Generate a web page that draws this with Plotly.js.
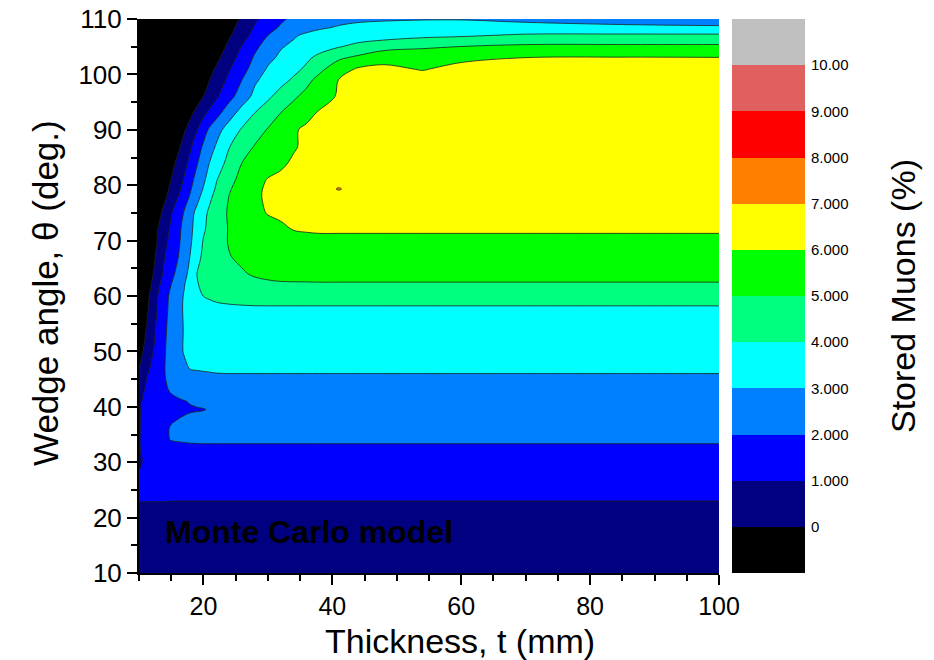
<!DOCTYPE html>
<html>
<head>
<meta charset="utf-8">
<script src="https://cdn.plot.ly/plotly-3.0.1.min.js"></script>
<style>html,body{margin:0;padding:0;background:#fff;}#chart{width:934px;height:660px;}</style>
</head>
<body>
<div id="chart"></div>
<script>
// Thickness t (mm) grid columns
const THICKNESS = [10, 11, 12, 13, 14, 15, 16, 17, 18, 19, 20, 21, 22, 24, 26, 28, 30, 32, 34, 36, 38, 41, 44, 48, 54, 60, 70, 85, 100];
// Wedge angle theta (deg.) grid rows
const ANGLE = [10, 20, 22, 24, 27, 30, 32, 34, 36, 38, 39.5, 41, 43, 45, 47, 50, 54, 58, 60, 62, 64, 67, 70, 72, 75, 78, 79.3, 81, 84, 87, 90, 93, 96, 99, 101, 103, 105, 107, 108.5, 110];
// Stored muons (%), one row per wedge angle
const STORED = [
/*10*/  [0.3,0.3,0.3,0.3,0.3,0.3,0.3,0.3,0.3,0.3, 0.3,0.3,0.3,0.3,0.3,0.3,0.3,0.3,0.3,0.3, 0.3,0.3,0.3,0.3,0.3,0.3,0.3,0.3,0.3],
/*20*/  [0.8,0.8,0.8,0.8,0.8,0.8,0.8,0.8,0.8,0.8, 0.8,0.8,0.8,0.8,0.8,0.8,0.8,0.8,0.8,0.8, 0.8,0.8,0.8,0.8,0.8,0.8,0.8,0.8,0.8],
/*22*/  [0.9,0.9,0.9,0.9,0.9,0.9,0.9,0.9,0.9,0.9, 0.9,0.9,0.9,0.9,0.9,0.9,0.9,0.9,0.9,0.9, 0.9,0.9,0.9,0.9,0.9,0.9,0.9,0.9,0.9],
/*24*/  [1.13,1.13,1.13,1.13,1.13,1.1,1.1,1.1,1.1,1.1, 1.1,1.1,1.1,1.1,1.1,1.1,1.1,1.1,1.1,1.1, 1.1,1.1,1.1,1.1,1.1,1.1,1.1,1.1,1.1],
/*27*/  [1.1,1.2,1.25,1.28,1.3,1.32,1.33,1.35,1.35,1.35, 1.35,1.35,1.35,1.35,1.35,1.35,1.35,1.35,1.35,1.35, 1.35,1.35,1.35,1.35,1.35,1.35,1.35,1.35,1.35],
/*30*/  [0.9,1.1,1.25,1.35,1.42,1.48,1.52,1.55,1.57,1.58, 1.6,1.6,1.6,1.6,1.6,1.6,1.6,1.6,1.6,1.6, 1.6,1.6,1.6,1.6,1.6,1.6,1.6,1.6,1.6],
/*32*/  [0.95,1.15,1.3,1.45,1.55,1.62,1.68,1.72,1.75,1.77, 1.8,1.8,1.8,1.8,1.8,1.8,1.8,1.8,1.8,1.8, 1.8,1.8,1.8,1.8,1.8,1.8,1.8,1.8,1.8],
/*34*/  [0.96,1.2,1.45,1.7,1.92,2.02,2.06,2.08,2.1,2.1, 2.1,2.1,2.1,2.1,2.1,2.1,2.1,2.1,2.1,2.1, 2.1,2.1,2.1,2.1,2.1,2.1,2.1,2.1,2.1],
/*36*/  [0.95,1.2,1.45,1.7,1.9,2.05,2.12,2.16,2.18,2.2, 2.21,2.22,2.23,2.25,2.25,2.25,2.25,2.25,2.25,2.25, 2.25,2.25,2.25,2.25,2.25,2.25,2.25,2.25,2.25],
/*38*/  [0.95,1.18,1.4,1.6,1.8,1.93,1.98,2.04,2.12,2.16, 2.2,2.24,2.27,2.31,2.35,2.35,2.35,2.35,2.35,2.35, 2.35,2.35,2.35,2.35,2.35,2.35,2.35,2.35,2.35],
/*39.5*/[0.95,1.15,1.35,1.55,1.7,1.8,1.86,1.9,1.93,1.95, 1.97,2.05,2.15,2.3,2.42,2.42,2.42,2.42,2.42,2.42, 2.42,2.42,2.42,2.42,2.42,2.42,2.42,2.42,2.42],
/*41*/  [0.92,1.1,1.3,1.5,1.65,1.78,1.88,1.97,2.05,2.12, 2.2,2.28,2.35,2.42,2.5,2.5,2.5,2.5,2.5,2.5, 2.5,2.5,2.5,2.5,2.5,2.5,2.5,2.5,2.5],
/*43*/  [0.85,1.03,1.31,1.58,1.86,2.1,2.25,2.35,2.42,2.48, 2.52,2.56,2.6,2.65,2.65,2.65,2.65,2.65,2.65,2.65, 2.65,2.65,2.65,2.65,2.65,2.65,2.65,2.65,2.65],
/*45*/  [0.7,0.95,1.28,1.62,1.97,2.2,2.4,2.55,2.65,2.72, 2.77,2.8,2.82,2.85,2.85,2.85,2.85,2.85,2.85,2.85, 2.85,2.85,2.85,2.85,2.85,2.85,2.85,2.85,2.85],
/*47*/  [-0.07,0.6,1.17,1.58,1.99,2.29,2.57,2.86,3.05,3.08, 3.1,3.12,3.15,3.15,3.15,3.15,3.15,3.15,3.15,3.15, 3.15,3.15,3.15,3.15,3.15,3.15,3.15,3.15,3.15],
/*50*/  [-0.38,0.25,0.88,1.42,1.95,2.36,2.76,3.05,3.15,3.22, 3.27,3.3,3.33,3.36,3.38,3.4,3.4,3.4,3.4,3.4, 3.4,3.4,3.4,3.4,3.4,3.4,3.4,3.4,3.4],
/*54*/  [-0.79,-0.07,0.64,1.29,1.88,2.31,2.69,3.05,3.2,3.32, 3.42,3.5,3.55,3.6,3.65,3.65,3.65,3.65,3.65,3.65, 3.65,3.65,3.65,3.65,3.65,3.65,3.65,3.65,3.65],
/*58*/  [-1,-0.33,0.41,1.13,1.75,2.26,2.7,3.09,3.35,3.55, 3.7,3.8,3.86,3.9,3.93,3.95,3.95,3.95,3.95,3.95, 3.95,3.95,3.95,3.95,3.95,3.95,3.95,3.95,3.95],
/*60*/  [-1,-0.46,0.31,1.06,1.69,2.22,2.65,3.06,3.38,3.69, 4.01,4.1,4.18,4.28,4.33,4.37,4.4,4.4,4.4,4.4, 4.4,4.4,4.4,4.4,4.4,4.4,4.4,4.4,4.4],
/*62*/  [-1,-0.69,0.08,0.85,1.44,2.01,2.48,2.95,3.45,3.95, 4.15,4.3,4.4,4.55,4.65,4.75,4.85,4.9,4.9,4.9, 4.9,4.9,4.9,4.9,4.9,4.9,4.9,4.9,4.9],
/*64*/  [-1,-0.86,-0.14,0.57,1.21,1.74,2.24,2.71,3.31,4.01, 4.14,4.27,4.4,4.66,4.92,5.1,5.18,5.22,5.25,5.27, 5.3,5.3,5.3,5.3,5.3,5.3,5.3,5.3,5.3],
/*67*/  [-1,-1,-0.33,0.33,1.01,1.48,1.95,2.5,3.07,3.79, 4.14,4.35,4.55,4.96,5.15,5.3,5.4,5.48,5.53,5.56, 5.6,5.6,5.6,5.6,5.6,5.6,5.6,5.6,5.6],
/*70*/  [-1,-1,-0.5,0.13,0.75,1.3,1.8,2.33,2.89,3.5, 4.05,4.32,4.59,5.07,5.25,5.42,5.58,5.7,5.8,5.85, 5.85,5.85,5.85,5.85,5.85,5.85,5.85,5.85,5.85],
/*72*/  [-1,-1,-0.5,0.06,0.61,1.17,1.72,2.28,2.83,3.37, 3.89,4.25,4.56,5.06,5.25,5.45,5.65,5.85,6.02,6.05, 6.08,6.08,6.08,6.08,6.08,6.08,6.08,6.08,6.08],
/*75*/  [-1,-1,-0.94,-0.31,0.31,0.94,1.5,2.06,2.69,3.25, 3.75,4.18,4.54,5.11,5.44,5.76,6.05,6.15,6.2,6.25, 6.28,6.3,6.3,6.3,6.3,6.3,6.3,6.3,6.3],
/*78*/  [-1,-1,-1,-0.72,-0.17,0.39,0.94,1.53,2.12,2.71, 3.28,3.83,4.27,5.02,5.46,5.89,6.1,6.2,6.25,6.3, 6.35,6.4,6.4,6.4,6.4,6.4,6.4,6.4,6.4],
/*79.3*/[-1,-1,-1,-0.84,-0.32,0.21,0.74,1.31,1.94,2.5, 3.06,3.61,4.12,4.92,5.41,5.86,6.1,6.2,6.25,6.3, 6.35,7.1,6.4,6.42,6.42,6.42,6.42,6.42,6.42],
/*81*/  [-1,-1,-1,-1,-0.53,0.01,0.53,1.07,1.73,2.32, 2.84,3.39,3.94,4.73,5.27,5.67,6.05,6.15,6.2,6.3, 6.35,6.45,6.45,6.45,6.45,6.45,6.45,6.45,6.45],
/*84*/  [-1,-1,-1,-1,-0.8,-0.3,0.2,0.7,1.27,1.93, 2.5,3.05,3.5,4.31,5.01,5.29,5.59,5.88,6.1,6.2, 6.3,6.4,6.5,6.5,6.5,6.5,6.5,6.5,6.5],
/*87*/  [-1,-1,-1,-1,-1,-0.78,-0.22,0.33,0.89,1.53, 2.14,2.62,3.09,3.96,4.54,5.06,5.35,5.64,5.93,6.15, 6.3,6.4,6.5,6.5,6.5,6.5,6.5,6.5,6.5],
/*90*/  [-1,-1,-1,-1,-1,-1,-0.63,-0.11,0.42,0.95, 1.6,2.18,2.64,3.43,4.1,4.59,5.06,5.49,5.91,6.15, 6.3,6.35,6.5,6.5,6.5,6.5,6.5,6.5,6.5],
/*93*/  [-1,-1,-1,-1,-1,-1,-1,-0.7,-0.2,0.3, 0.8,1.25,1.67,2.6,3.39,4.02,4.51,5.01,5.38,5.75, 6.1,6.3,6.5,6.5,6.5,6.5,6.5,6.5,6.5],
/*96*/  [-1,-1,-1,-1,-1,-1,-1,-1,-0.87,-0.43, 0.01,0.43,0.87,1.68,2.52,3.26,3.83,4.36,4.87,5.26, 5.6,6.1,6.4,6.45,6.45,6.45,6.45,6.45,6.45],
/*99*/  [-1,-1,-1,-1,-1,-1,-1,-1,-1,-0.83, -0.42,0.01,0.42,1.23,2.01,2.87,3.32,3.7,4.13,4.75, 5.29,6.02,6.35,6.35,6.3,6.35,6.35,6.35,6.35],
/*101*/ [-1,-1,-1,-1,-1,-1,-1,-1,-1,-1, -0.68,-0.28,0.12,0.92,1.64,2.42,3.1,3.43,3.75,4.15, 4.76,5.55,6.1,6.15,5.95,6.2,6.25,6.25,6.25],
/*103*/ [-1,-1,-1,-1,-1,-1,-1,-1,-1,-1, -1,-0.67,-0.25,0.58,1.38,2.13,2.75,3.19,3.52,3.84, 4.22,4.85,5.2,5.75,5.7,5.85,6.01,6.05,6.03],
/*105*/ [-1,-1,-1,-1,-1,-1,-1,-1,-1,-1, -1,-1,-0.58,0.25,1.07,1.81,2.39,2.92,3.2,3.43, 3.66,3.95,4.25,4.6,4.85,5.02,5.2,5.2,5.2],
/*107*/ [-1,-1,-1,-1,-1,-1,-1,-1,-1,-1, -1,-1,-0.85,-0.11,0.63,1.33,2.01,2.44,2.89,3.2, 3.35,3.5,3.55,3.6,3.8,3.9,4.15,4.2,4.2],
/*108.5*/[-1,-1,-1,-1,-1,-1,-1,-1,-1,-1, -1,-1,-1,-0.32,0.39,1.09,1.66,2.1,2.36,2.62, 2.87,3.07,3.2,3.3,3.35,3.4,3.3,3.15,3.1],
/*110*/ [-1,-1,-1,-1,-1,-1,-1,-1,-1,-1, -1,-1,-1,-0.52,0.17,0.86,1.38,1.86,2.19,2.42, 2.6,2.75,2.85,2.9,2.95,2.95,2.8,2.7,2.6]
];
// Colour bands (below 0, 0-1, 1-2, ... 9-10, above 10)
const BAND_COLORS = ['#000000','#000080','#0000FF','#0080FF','#00FFFF','#00FF80','#00FF00','#FFFF00','#FF8000','#FF0000','#E06060','#C0C0C0'];
const BAND_MIDS = [-0.5, 0.5, 1.5, 2.5, 3.5, 4.5, 5.5, 6.5, 7.5, 8.5, 9.5, 10.5];
const CB_TICKVALS = [0, 1, 2, 3, 4, 5, 6, 7, 8, 9, 10];
const CB_TICKTEXT = ['0', '1.000', '2.000', '3.000', '4.000', '5.000', '6.000', '7.000', '8.000', '9.000', '10.00'];

if (STORED.length !== ANGLE.length) throw new Error('rows ' + STORED.length);
STORED.forEach(function (r, i) { if (r.length !== THICKNESS.length) throw new Error('row ' + ANGLE[i] + ' has ' + r.length); });

const nB = BAND_COLORS.length;
// contour fill colours are sampled at s = k/11 for band k
const contourScale = [];
BAND_COLORS.forEach(function (c, k) {
  contourScale.push([Math.max(0, (k - 0.5) / (nB - 1)), c]);
  contourScale.push([Math.min(1, (k + 0.5) / (nB - 1)), c]);
});
// colour-bar heatmap: zmin -1, zmax 11, band k spans [k/12,(k+1)/12]
const barScale = [];
BAND_COLORS.forEach(function (c, k) {
  barScale.push([k / nB, c]);
  barScale.push([(k + 1) / nB, c]);
});

const FONT = 'Liberation Sans, Arial, sans-serif';

const contour = {
  type: 'contour',
  x: THICKNESS, y: ANGLE, z: STORED,
  autocontour: false,
  contours: {start: 0, end: 10, size: 1, coloring: 'fill', showlines: true},
  line: {color: '#202020', width: 0.8, smoothing: 1},
  colorscale: contourScale,
  showscale: false,
  hoverinfo: 'skip'
};

const bar = {
  type: 'heatmap',
  x: [0], y: BAND_MIDS,
  z: BAND_MIDS.map(function (v) { return [v]; }),
  zmin: -1, zmax: 11,
  colorscale: barScale,
  showscale: false,
  xaxis: 'x2', yaxis: 'y2',
  hoverinfo: 'skip'
};

const L = 139, R = 129, T = 19, B = 87, W = 934, H = 660;
const pw = W - L - R, ph = H - T - B;
function px2x(p) { return (p - L) / pw; }
function py2y(p) { return (H - B - p) / ph; }

const layout = {
  width: W, height: H,
  margin: {l: L, r: R, t: T, b: B, pad: 0},
  paper_bgcolor: '#ffffff', plot_bgcolor: '#ffffff',
  showlegend: false,
  font: {family: FONT, color: '#000000'},
  xaxis: {
    domain: [0, px2x(719)], range: [10, 100], anchor: 'y',
    tick0: 0, dtick: 20, ticks: 'outside', ticklen: 10, tickwidth: 2, tickcolor: '#000',
    minor: {dtick: 5, ticks: 'outside', ticklen: 6, tickwidth: 2, tickcolor: '#000', showgrid: false},
    showline: true, linewidth: 2, linecolor: '#000', mirror: false,
    showgrid: false, zeroline: false,
    tickfont: {family: FONT, size: 25, color: '#000'}
  },
  yaxis: {
    domain: [0, 1], range: [10, 110], anchor: 'x',
    tick0: 10, dtick: 10, ticks: 'outside', ticklen: 10, tickwidth: 2, tickcolor: '#000',
    minor: {dtick: 5, ticks: 'outside', ticklen: 6, tickwidth: 2, tickcolor: '#000', showgrid: false},
    showline: true, linewidth: 2, linecolor: '#000', mirror: false,
    showgrid: false, zeroline: false,
    tickfont: {family: FONT, size: 26, color: '#000'}
  },
  xaxis2: {domain: [px2x(732), 1], range: [-0.5, 0.5], anchor: 'y2', visible: false, fixedrange: true},
  yaxis2: {
    domain: [0, 1], range: [-1, 11], anchor: 'x2', side: 'right',
    tickmode: 'array', tickvals: CB_TICKVALS, ticktext: CB_TICKTEXT,
    ticks: '', showline: false, showgrid: false, zeroline: false,
    ticklabelstandoff: 5,
    tickfont: {family: FONT, size: 15, color: '#000'}
  },
  annotations: [
    {text: 'Thickness, t (mm)', xref: 'paper', yref: 'paper', x: px2x(460), y: py2y(641),
     xanchor: 'center', yanchor: 'middle', showarrow: false, font: {family: FONT, size: 34, color: '#000'}},
    {text: 'Wedge angle, θ (deg.)', xref: 'paper', yref: 'paper', x: px2x(45), y: py2y(293),
     xanchor: 'center', yanchor: 'middle', textangle: -90, showarrow: false, font: {family: FONT, size: 35, color: '#000'}},
    {text: 'Stored Muons (%)', xref: 'paper', yref: 'paper', x: px2x(903), y: py2y(296),
     xanchor: 'center', yanchor: 'middle', textangle: -90, showarrow: false, font: {family: FONT, size: 34, color: '#000'}},
    {text: '<b>Monte Carlo model</b>', xref: 'x', yref: 'y', x: 13.7, y: 17.4,
     xanchor: 'left', yanchor: 'middle', showarrow: false, font: {family: FONT, size: 32, color: '#000'}}
  ]
};

Plotly.newPlot('chart', [contour, bar], layout, {displayModeBar: false, staticPlot: true});
</script>
</body>
</html>
